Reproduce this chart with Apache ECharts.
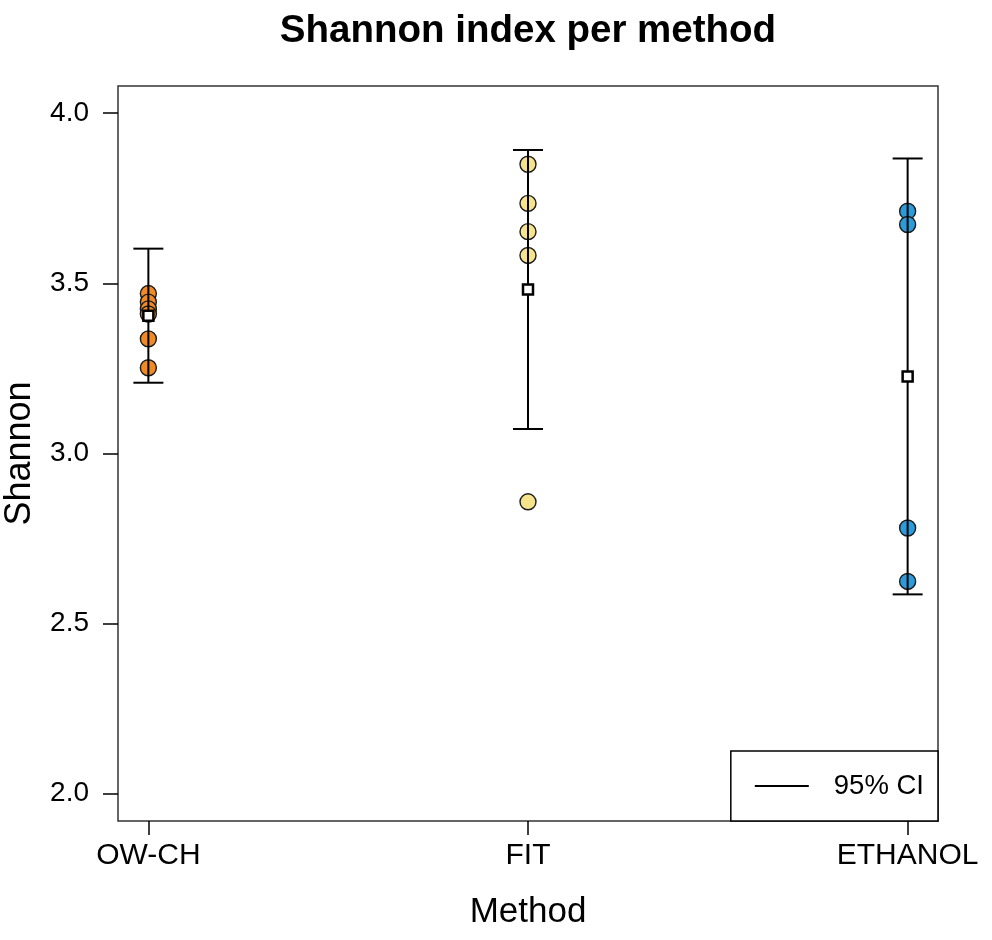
<!DOCTYPE html>
<html>
<head>
<meta charset="utf-8">
<script src="https://cdn.jsdelivr.net/npm/echarts@6/dist/echarts.min.js"></script>
<style>
  html, body { margin: 0; padding: 0; background: #fff; }
  #chart { width: 992px; height: 940px; }
</style>
</head>
<body>
<div id="chart"></div>
<script>
// values
const methods = ['OW-CH', 'FIT', 'ETHANOL'];
const owchValues = [3.470, 3.445, 3.425, 3.410, 3.337, 3.252];
const fitValues = [3.850, 3.735, 3.652, 3.582, 2.858];
const ethanolValues = [3.712, 3.673, 2.781, 2.624];
const meanValues = [3.405, 3.482, 3.226];
const ciLower = [3.208, 3.072, 2.586];
const ciUpper = [3.602, 3.892, 3.867];
const yTicks = [2.0, 2.5, 3.0, 3.5, 4.0];
const xTicks = [1, 2, 3];

const pointColors = ['#F08A24', '#F6E38C', '#2A9BDB'];
const groups = [owchValues, fitValues, ethanolValues];

const font = '"Liberation Sans", Arial, sans-serif';

const chart = echarts.init(document.getElementById('chart'));

const pointSeries = groups.map((vals, i) => ({
  name: methods[i],
  type: 'scatter',
  z: 2,
  symbol: 'circle',
  symbolSize: 16,
  itemStyle: { color: pointColors[i], borderColor: '#1a1a1a', borderWidth: 1.4, opacity: 1 },
  data: vals.map(v => [xTicks[i], v])
}));

const ciData = methods.map((m, i) => [xTicks[i], ciLower[i], ciUpper[i]]);

chart.setOption({
  animation: false,
  title: {
    text: 'Shannon index per method',
    left: 523,
    textAlign: 'center',
    top: 7,
    textStyle: { fontFamily: font, fontWeight: 'bold', fontSize: 38.5, color: '#000' }
  },
  legend: {
    right: 54,
    bottom: 119,
    orient: 'vertical',
    backgroundColor: '#fff',
    borderColor: '#000',
    borderWidth: 1.5,
    borderRadius: 0,
    padding: [21, 14, 21, 24],
    itemWidth: 54,
    itemHeight: 2,
    itemGap: 0,
    textStyle: { fontFamily: font, fontSize: 27.5, color: '#000', padding: [0, 0, 0, 20], lineHeight: 26 },
    data: [{ name: '95% CI', icon: 'rect', itemStyle: { color: '#000' } }]
  },
  grid: {
    left: 118, right: 54, top: 86, bottom: 119,
    outerBoundsMode: 'none',
    containLabel: false,
    show: true, borderColor: '#333', borderWidth: 1.5, backgroundColor: '#fff'
  },
  xAxis: {
    type: 'value',
    min: 0.92,
    max: 3.08,
    name: 'Method',
    nameLocation: 'middle',
    nameGap: 74,
    nameTextStyle: { fontFamily: font, fontSize: 35, color: '#000' },
    axisLine: { show: false },
    splitLine: { show: false },
    axisTick: { show: true, inside: false, length: 14, customValues: xTicks, lineStyle: { color: '#000', width: 1.5 } },
    axisLabel: {
      customValues: xTicks,
      margin: 20,
      fontFamily: font, fontSize: 30, color: '#000',
      formatter: v => methods[Math.round(v) - 1]
    }
  },
  yAxis: {
    type: 'value',
    min: 1.92,
    max: 4.08,
    name: 'Shannon',
    nameLocation: 'middle',
    nameGap: 80,
    nameTextStyle: { fontFamily: font, fontSize: 36, color: '#000' },
    axisLine: { show: false },
    splitLine: { show: false },
    axisTick: { show: true, inside: false, length: 15, customValues: yTicks, lineStyle: { color: '#000', width: 1.5 } },
    axisLabel: {
      customValues: yTicks,
      margin: 29,
      fontFamily: font, fontSize: 28, color: '#000',
      formatter: v => v.toFixed(1)
    }
  },
  series: [
    ...pointSeries,
    {
      name: '95% CI',
      type: 'custom',
      z: 3,
      itemStyle: { color: '#000' },
      renderItem: (params, api) => {
        const x = api.value(0);
        const lo = api.coord([x, api.value(1)]);
        const hi = api.coord([x, api.value(2)]);
        const half = 15;
        const style = { stroke: '#000', lineWidth: 2, fill: null };
        return {
          type: 'group',
          children: [
            { type: 'line', shape: { x1: lo[0], y1: lo[1], x2: hi[0], y2: hi[1] }, style },
            { type: 'line', shape: { x1: lo[0] - half, y1: lo[1], x2: lo[0] + half, y2: lo[1] }, style },
            { type: 'line', shape: { x1: hi[0] - half, y1: hi[1], x2: hi[0] + half, y2: hi[1] }, style }
          ]
        };
      },
      encode: { x: 0, y: [1, 2] },
      data: ciData
    },
    {
      name: 'mean',
      type: 'scatter',
      z: 4,
      symbol: 'rect',
      symbolSize: 10,
      itemStyle: { color: '#fff', borderColor: '#000', borderWidth: 2.5, opacity: 1 },
      data: meanValues.map((v, i) => [xTicks[i], v])
    }
  ]
});
</script>
</body>
</html>
